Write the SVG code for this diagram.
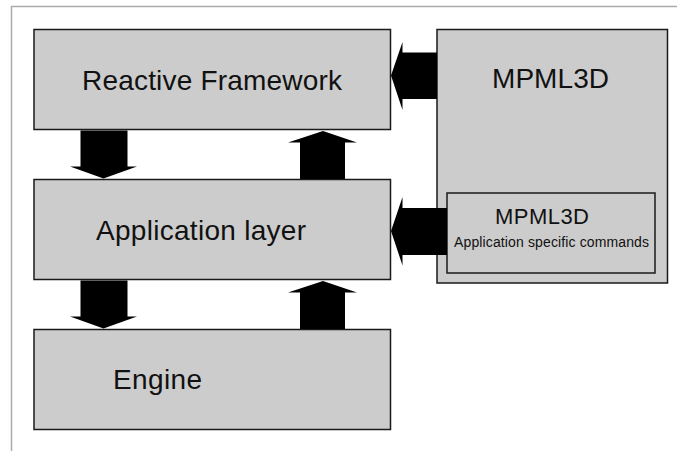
<svg xmlns="http://www.w3.org/2000/svg" width="677" height="451" viewBox="0 0 677 451">
<style>
.box{fill:#cccccc;stroke:#1a1a1a;stroke-width:1.5}
.frame{stroke:#aaaaaa;stroke-width:1.5;fill:none}
.arrow{fill:#000000;stroke:none}
text{font-family:"Liberation Sans",Arial,sans-serif;fill:#111111}
.big{font-size:28px}
.small{font-size:14px}
.mid{font-size:22px}
</style>
<rect width="677" height="451" fill="#ffffff"/>
<path class="frame" d="M11.5,451 V6.5 H677"/>
<g id="reactive-framework">
<rect class="box" x="34" y="29.5" width="356.5" height="100"/>
<text class="big" x="82" y="89.5" textLength="260">Reactive Framework</text>
</g>
<g id="application-layer">
<rect class="box" x="34" y="179.5" width="356.5" height="100"/>
<text class="big" x="96" y="240" textLength="210">Application layer</text>
</g>
<g id="engine">
<rect class="box" x="34" y="329.5" width="356.5" height="100"/>
<text class="big" x="113" y="388.5" textLength="89">Engine</text>
</g>
<g id="mpml3d">
<rect class="box" x="437" y="29.5" width="230.5" height="253.5"/>
<text class="big" x="492" y="88" textLength="117">MPML3D</text>
</g>
<g id="mpml3d-commands">
<rect class="box" x="447" y="193" width="208" height="80"/>
<text class="mid" x="495" y="223.5" textLength="94">MPML3D</text>
<text class="small" x="454" y="247" textLength="195">Application specific commands</text>
</g>
<g id="connectors">
<polygon class="arrow" points="80.5,130.5 127.5,130.5 127.5,166.5 137,166.5 103.5,178.5 70,166.5 80.5,166.5"/>
<polygon class="arrow" points="300,179 345,179 345,142.5 357,142.5 323,131 288,142.5 300,142.5"/>
<polygon class="arrow" points="80.5,280.5 127.5,280.5 127.5,316.5 137,316.5 103.5,328.5 70,316.5 80.5,316.5"/>
<polygon class="arrow" points="300,329 345,329 345,292.5 357,292.5 323,281 288,292.5 300,292.5"/>
<polygon class="arrow" points="437,52.5 437,99 402.5,99 402.5,110 391,75.5 402.5,42 402.5,52.5"/>
<polygon class="arrow" points="447,208 447,255 402.5,255 402.5,265.5 391,231 402.5,197 402.5,208"/>
</g>
</svg>
